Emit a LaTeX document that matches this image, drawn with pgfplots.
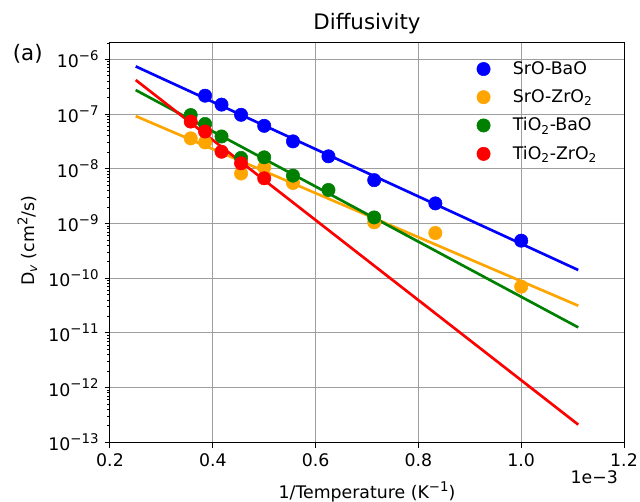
\documentclass[border=0pt]{standalone}
\usepackage{fontspec}
\setmainfont{DejaVu Sans}
\usepackage{pgfplots}
\pgfplotsset{compat=1.18}
\definecolor{mplblue}{RGB}{0,0,255}
\definecolor{mplorange}{RGB}{255,165,0}
\definecolor{mplgreen}{RGB}{0,128,0}
\definecolor{mplred}{RGB}{255,0,0}
\newcommand\expo[1]{\raisebox{0.42em}{\fontsize{10}{12}\selectfont #1}}

\begin{document}
\fontsize{13}{15.5}\selectfont
\begin{tikzpicture}[x=1pt,y=1pt]
\begin{axis}[
    name=ax,
    at={(0,0)}, anchor=south west,
    scale only axis, width=385.5pt, height=299.5pt,
    ymode=log, log basis y=10,
    xmin=0.2, xmax=1.2, ymin=1e-13, ymax=2e-6,
    xtick={0.2,0.4,0.6,0.8,1.0,1.2},
    xticklabels={0.2,0.4,0.6,0.8,1.0,1.2},
    ytick={1e-13,1e-12,1e-11,1e-10,1e-9,1e-8,1e-7,1e-6},
    yticklabels={10\expo{−13},10\expo{−12},10\expo{−11},10\expo{−10},10\expo{−9},10\expo{−8},10\expo{−7},10\expo{−6}},
    minor ytick={2e-13,3e-13,4e-13,5e-13,6e-13,7e-13,8e-13,9e-13,
                 2e-12,3e-12,4e-12,5e-12,6e-12,7e-12,8e-12,9e-12,
                 2e-11,3e-11,4e-11,5e-11,6e-11,7e-11,8e-11,9e-11,
                 2e-10,3e-10,4e-10,5e-10,6e-10,7e-10,8e-10,9e-10,
                 2e-9,3e-9,4e-9,5e-9,6e-9,7e-9,8e-9,9e-9,
                 2e-8,3e-8,4e-8,5e-8,6e-8,7e-8,8e-8,9e-8,
                 2e-7,3e-7,4e-7,5e-7,6e-7,7e-7,8e-7,9e-7,2e-6},
    tick pos=left,
    tick align=outside,
    major tick length=4pt, minor tick length=2.3pt,
    tick style={black, line width=0.75pt},
    minor tick style={black, line width=0.6pt},
    axis line style={line width=0.75pt},
    grid=major,
    grid style={black!38, line width=0.75pt},
    legend style={draw=none, fill=none, at={(0.705,0.968)}, anchor=north west,
        row sep=5.5pt, font=\fontsize{13}{15.5}\selectfont},
    legend cell align=left,
    legend image code/.code={\fill (0pt,0pt) circle (5pt); \path[draw=none] (-5pt,0pt) rectangle (20pt,0pt);},
]
% SrO-BaO
\addplot[only marks, mark=*, mark size=5pt, color=mplblue, mark options={draw=none}]
    coordinates {(0.385,2.17e-7) (0.417,1.49e-7) (0.455,9.7e-8) (0.500,6.1e-8)
    (0.556,3.17e-8) (0.625,1.69e-8) (0.714,6.2e-9) (0.833,2.33e-9) (1.000,4.85e-10)};
\addlegendentry{SrO-BaO}
\addplot[forget plot, mplblue, line width=2pt] coordinates {(0.25,7.45e-7) (1.111,1.41e-10)};
% SrO-ZrO2
\addplot[only marks, mark=*, mark size=5pt, color=mplorange, mark options={draw=none}]
    coordinates {(0.357,3.6e-8) (0.385,3.04e-8) (0.455,8.2e-9) (0.500,1.06e-8)
    (0.556,5.5e-9) (0.714,1.05e-9) (0.833,6.7e-10) (1.000,7.0e-11)};
\addlegendentry{SrO-ZrO\textsubscript{2}}
\addplot[forget plot, mplorange, line width=2pt] coordinates {(0.25,9.2e-8) (1.111,3.14e-11)};
% TiO2-BaO
\addplot[only marks, mark=*, mark size=5pt, color=mplgreen, mark options={draw=none}]
    coordinates {(0.357,9.6e-8) (0.385,6.6e-8) (0.417,3.9e-8) (0.455,1.58e-8)
    (0.500,1.62e-8) (0.556,7.5e-9) (0.625,4.1e-9) (0.714,1.29e-9)};
\addlegendentry{TiO\textsubscript{2}-BaO}
\addplot[forget plot, mplgreen, line width=2pt] coordinates {(0.25,2.75e-7) (1.111,1.26e-11)};
% TiO2-ZrO2
\addplot[only marks, mark=*, mark size=5pt, color=mplred, mark options={draw=none}]
    coordinates {(0.357,7.3e-8) (0.385,4.8e-8) (0.417,2.05e-8) (0.455,1.26e-8) (0.500,6.7e-9)};
\addlegendentry{TiO\textsubscript{2}-ZrO\textsubscript{2}}
\addplot[forget plot, mplred, line width=2pt] coordinates {(0.25,4.2e-7) (1.111,2.1e-13)};
\end{axis}

% labels outside the axis
\node[font=\fontsize{16}{19}\selectfont] at (192.75,313.8) {Diffusivity};
\node[font=\fontsize{16}{19}\selectfont] at (-61.7,291.3) {(a)};
\node[anchor=east] at (385.5,-26.5) {1e−3};
\node at (192.75,-37.5) {1/Temperature (K\expo{−1})};
\node[rotate=90] at (-62,151) {D\textsubscript{\textit{v}} (cm\expo{2}/s)};

\pgfresetboundingbox
\path (-82.5,-44.5) rectangle (397.5,331.7);
\end{tikzpicture}
\end{document}
